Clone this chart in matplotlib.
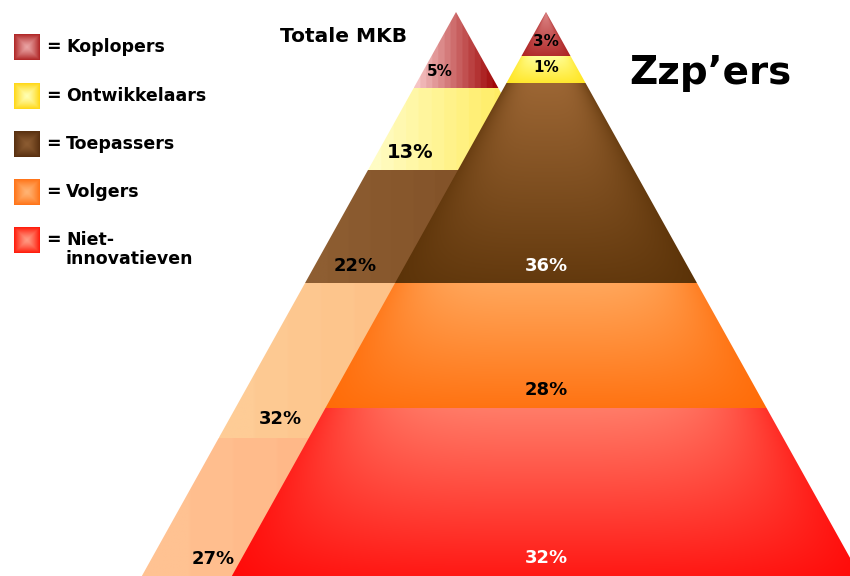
import numpy as np
import matplotlib.pyplot as plt
from matplotlib.patches import Polygon
from matplotlib.colors import to_rgb

# data
categories = ['Koplopers', 'Ontwikkelaars', 'Toepassers', 'Volgers', 'Niet-\ninnovatieven']
mkb_pct = [5, 13, 22, 32, 27]
zzp_pct = [3, 1, 36, 28, 32]

# layout of the two pyramids (pixel coords, y down)
slope = 0.557
mkb_apex = (456, 12)
zzp_apex = (546, 12)
mkb_edges = [12, 88, 170, 283, 438, 576]
zzp_edges = [12, 56, 83, 283, 408, 576]

# colours per category
front_cols = [('#dc8686', '#a81818'), ('#ffff9a', '#ffe214'), ('#9c6634', '#552e04'),
              ('#ffa75c', '#ff6600'), ('#ff7c68', '#ff0000')]
back_cols = [('#f6c4c4', '#a00808'), ('#fffcc4', '#ffe848'), ('#8e5e32', '#784820'),
             ('#fecc96', '#fdae6e'), ('#ffc292', '#ff9868')]
legend_cols = [('#eaa4a4', '#b02828'), ('#ffffb4', '#ffd818'), ('#8c5c32', '#583010'),
               ('#ffb474', '#ff7418'), ('#ff9c84', '#ff1c0c')]

mkb_lab_pos = [(440, 72), (410, 153), (355, 266), (280, 419), (213, 559)]
zzp_lab_y = [41, 68, 266, 390, 558]
zzp_lab_col = ['black', 'black', 'white', 'black', 'white']
mkb_lab_size = [11, 14, 13, 13, 13]
zzp_lab_size = [11, 11, 13, 13, 13]

fig = plt.figure(figsize=(8.5, 5.76), dpi=100)
ax = fig.add_axes([0, 0, 1, 1])
ax.set_xlim(0, 850)
ax.set_ylim(576, 0)
ax.axis('off')


def band(apex, y0, y1):
    cx, ay = apex
    w0 = slope * (y0 - ay)
    w1 = slope * (y1 - ay)
    return [(cx - w0, y0), (cx + w0, y0), (cx + w1, y1), (cx - w1, y1)]


def fill(pts, img, z):
    patch = Polygon(pts, closed=True, fc='none', ec='none', zorder=z)
    ax.add_patch(patch)
    xs = [p[0] for p in pts]
    ys = [p[1] for p in pts]
    im = ax.imshow(img, extent=[min(xs), max(xs), max(ys), min(ys)], origin='upper',
                   aspect='auto', interpolation='bilinear', zorder=z)
    im.set_clip_path(patch)


# back pyramid: striped horizontal gradient
for i in range(5):
    y0, y1 = mkb_edges[i], mkb_edges[i + 1]
    pts = band(mkb_apex, y0, y1)
    n = 200
    t = np.linspace(0, 1, n)
    t = np.clip(np.floor(t * 14) / 13, 0, 1)
    a, b = np.array(to_rgb(back_cols[i][0])), np.array(to_rgb(back_cols[i][1]))
    row = a[None, :] * (1 - t[:, None]) + b[None, :] * t[:, None]
    img = np.repeat(row[None, :, :], 20, axis=0)
    fill(pts, img, 2)

# front pyramid: light centre-top, darker sides and bottom
for i in range(5):
    y0, y1 = zzp_edges[i], zzp_edges[i + 1]
    pts = band(zzp_apex, y0, y1)
    x0, x1 = pts[3][0], pts[2][0]
    xs = np.linspace(x0, x1, 240)
    ys = np.linspace(y0, y1, 120)
    X, Y = np.meshgrid(xs, ys)
    hw = slope * (Y - zzp_apex[1]) + 1e-6
    tx = np.clip(np.abs(X - zzp_apex[0]) / hw, 0, 1)
    ty = (Y - y0) / (y1 - y0)
    mix = (0.8 * (1 - ty) + 0.2) * (1 - 0.6 * tx ** 4)
    mix = np.clip(mix, 0, 1)
    a, b = np.array(to_rgb(front_cols[i][0])), np.array(to_rgb(front_cols[i][1]))
    img = b[None, None, :] * (1 - mix[..., None]) + a[None, None, :] * mix[..., None]
    fill(pts, img, 3)

# percentage labels
for i in range(5):
    x, y = mkb_lab_pos[i]
    ax.text(x, y, f'{mkb_pct[i]}%', ha='center', va='center', fontsize=mkb_lab_size[i],
            fontweight='bold', color='black', zorder=5)
    ax.text(zzp_apex[0], zzp_lab_y[i], f'{zzp_pct[i]}%', ha='center', va='center',
            fontsize=zzp_lab_size[i], fontweight='bold', color=zzp_lab_col[i], zorder=5)

# titles
ax.text(344, 36, 'Totale MKB', ha='center', va='center', fontsize=14.5, fontweight='bold')
ax.text(710, 73, 'Zzp\u2019ers', ha='center', va='center', fontsize=28, fontweight='bold')

# legend with bevelled squares
u = np.linspace(-1, 1, 40)
U, V = np.meshgrid(u, u)
d = np.maximum(np.abs(U), np.abs(V))
leg_y = [47, 96, 144, 192, 240]
for i, cat in enumerate(categories):
    a, b = np.array(to_rgb(legend_cols[i][0])), np.array(to_rgb(legend_cols[i][1]))
    m = np.clip(1 - d ** 1.3, 0, 1)
    img = b * (1 - m[..., None]) + a * m[..., None]
    yc = leg_y[i]
    ax.imshow(img, extent=[14, 40, yc + 13, yc - 13], origin='upper', aspect='auto',
              interpolation='bilinear', zorder=4)
    ax.text(46, yc, '=', ha='left', va='center', fontsize=12.5, fontweight='bold')
    ax.text(66, yc - 9, cat, ha='left', va='top', fontsize=12.5, fontweight='bold',
            linespacing=1.05)

ax.set_xlim(0, 850)
ax.set_ylim(576, 0)
fig.savefig('out.png', dpi=100)
